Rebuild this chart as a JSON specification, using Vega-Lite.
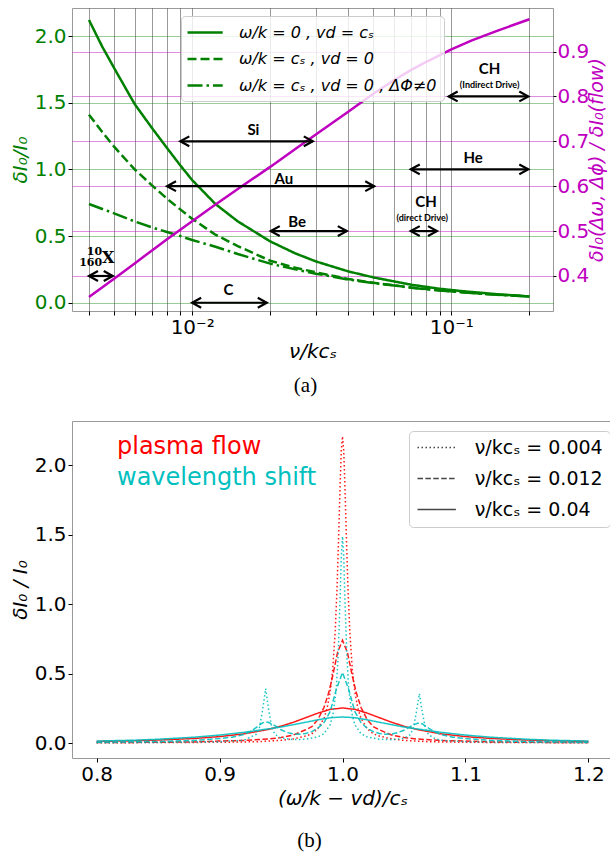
{
  "$schema": "https://vega.github.io/schema/vega-lite/v6.json",
  "background": "white",
  "padding": {"left": 9, "top": 7, "right": 0, "bottom": 0},
  "spacing": 23,
  "resolve": {"scale": {"strokeDash": "independent", "color": "independent"}, "legend": {"strokeDash": "independent", "color": "independent"}},
  "config": {
    "view": {"stroke": "#999999", "strokeWidth": 1},
    "axis": {"labelFont": "DejaVu Sans", "titleFont": "DejaVu Sans", "labelFontSize": 20, "titleFontSize": 20, "titleFontWeight": "normal", "labelColor": "#000000", "titleColor": "#000000", "tickColor": "#000000", "tickSize": 4, "labelPadding": 2, "domain": false, "grid": false, "titlePadding": 4},
    "legend": {"labelFont": "DejaVu Sans"},
    "title": {"font": "Liberation Serif", "fontSize": 21, "fontWeight": "normal", "color": "#000000"}
  },
  "datasets": {
    "green": [
      {"nu":0.004,"v":2.12,"s":"ω/k = 0 , vd = cₛ"},{"nu":0.0045,"v":1.92,"s":"ω/k = 0 , vd = cₛ"},{"nu":0.005,"v":1.76,"s":"ω/k = 0 , vd = cₛ"},{"nu":0.006,"v":1.49,"s":"ω/k = 0 , vd = cₛ"},{"nu":0.007,"v":1.31,"s":"ω/k = 0 , vd = cₛ"},{"nu":0.008,"v":1.16,"s":"ω/k = 0 , vd = cₛ"},{"nu":0.009,"v":1.03,"s":"ω/k = 0 , vd = cₛ"},{"nu":0.01,"v":0.92,"s":"ω/k = 0 , vd = cₛ"},{"nu":0.0123,"v":0.74,"s":"ω/k = 0 , vd = cₛ"},{"nu":0.015,"v":0.61,"s":"ω/k = 0 , vd = cₛ"},{"nu":0.02,"v":0.46,"s":"ω/k = 0 , vd = cₛ"},{"nu":0.025,"v":0.37,"s":"ω/k = 0 , vd = cₛ"},{"nu":0.03,"v":0.31,"s":"ω/k = 0 , vd = cₛ"},{"nu":0.04,"v":0.235,"s":"ω/k = 0 , vd = cₛ"},{"nu":0.05,"v":0.19,"s":"ω/k = 0 , vd = cₛ"},{"nu":0.07,"v":0.135,"s":"ω/k = 0 , vd = cₛ"},{"nu":0.09,"v":0.105,"s":"ω/k = 0 , vd = cₛ"},{"nu":0.11,"v":0.087,"s":"ω/k = 0 , vd = cₛ"},{"nu":0.15,"v":0.064,"s":"ω/k = 0 , vd = cₛ"},{"nu":0.2,"v":0.047,"s":"ω/k = 0 , vd = cₛ"},
      {"nu":0.004,"v":1.41,"s":"ω/k = cₛ , vd = 0"},{"nu":0.0045,"v":1.28,"s":"ω/k = cₛ , vd = 0"},{"nu":0.005,"v":1.17,"s":"ω/k = cₛ , vd = 0"},{"nu":0.006,"v":1.0,"s":"ω/k = cₛ , vd = 0"},{"nu":0.007,"v":0.88,"s":"ω/k = cₛ , vd = 0"},{"nu":0.008,"v":0.78,"s":"ω/k = cₛ , vd = 0"},{"nu":0.009,"v":0.70,"s":"ω/k = cₛ , vd = 0"},{"nu":0.01,"v":0.63,"s":"ω/k = cₛ , vd = 0"},{"nu":0.0123,"v":0.51,"s":"ω/k = cₛ , vd = 0"},{"nu":0.015,"v":0.425,"s":"ω/k = cₛ , vd = 0"},{"nu":0.02,"v":0.315,"s":"ω/k = cₛ , vd = 0"},{"nu":0.025,"v":0.262,"s":"ω/k = cₛ , vd = 0"},{"nu":0.03,"v":0.228,"s":"ω/k = cₛ , vd = 0"},{"nu":0.04,"v":0.178,"s":"ω/k = cₛ , vd = 0"},{"nu":0.05,"v":0.15,"s":"ω/k = cₛ , vd = 0"},{"nu":0.07,"v":0.114,"s":"ω/k = cₛ , vd = 0"},{"nu":0.09,"v":0.093,"s":"ω/k = cₛ , vd = 0"},{"nu":0.11,"v":0.079,"s":"ω/k = cₛ , vd = 0"},{"nu":0.15,"v":0.06,"s":"ω/k = cₛ , vd = 0"},{"nu":0.2,"v":0.046,"s":"ω/k = cₛ , vd = 0"},
      {"nu":0.004,"v":0.74,"s":"ω/k = cₛ , vd = 0 , ΔΦ≠0"},{"nu":0.005,"v":0.67,"s":"ω/k = cₛ , vd = 0 , ΔΦ≠0"},{"nu":0.006,"v":0.61,"s":"ω/k = cₛ , vd = 0 , ΔΦ≠0"},{"nu":0.007,"v":0.565,"s":"ω/k = cₛ , vd = 0 , ΔΦ≠0"},{"nu":0.008,"v":0.53,"s":"ω/k = cₛ , vd = 0 , ΔΦ≠0"},{"nu":0.009,"v":0.5,"s":"ω/k = cₛ , vd = 0 , ΔΦ≠0"},{"nu":0.01,"v":0.47,"s":"ω/k = cₛ , vd = 0 , ΔΦ≠0"},{"nu":0.0123,"v":0.42,"s":"ω/k = cₛ , vd = 0 , ΔΦ≠0"},{"nu":0.015,"v":0.365,"s":"ω/k = cₛ , vd = 0 , ΔΦ≠0"},{"nu":0.02,"v":0.293,"s":"ω/k = cₛ , vd = 0 , ΔΦ≠0"},{"nu":0.025,"v":0.25,"s":"ω/k = cₛ , vd = 0 , ΔΦ≠0"},{"nu":0.03,"v":0.218,"s":"ω/k = cₛ , vd = 0 , ΔΦ≠0"},{"nu":0.04,"v":0.174,"s":"ω/k = cₛ , vd = 0 , ΔΦ≠0"},{"nu":0.05,"v":0.147,"s":"ω/k = cₛ , vd = 0 , ΔΦ≠0"},{"nu":0.07,"v":0.113,"s":"ω/k = cₛ , vd = 0 , ΔΦ≠0"},{"nu":0.09,"v":0.092,"s":"ω/k = cₛ , vd = 0 , ΔΦ≠0"},{"nu":0.11,"v":0.078,"s":"ω/k = cₛ , vd = 0 , ΔΦ≠0"},{"nu":0.15,"v":0.06,"s":"ω/k = cₛ , vd = 0 , ΔΦ≠0"},{"nu":0.2,"v":0.046,"s":"ω/k = cₛ , vd = 0 , ΔΦ≠0"}
    ],
    "mag": [
      {"nu":0.004,"r":0.353},{"nu":0.005,"r":0.394},{"nu":0.006,"r":0.428},{"nu":0.007,"r":0.457},{"nu":0.008,"r":0.482},{"nu":0.01,"r":0.522},{"nu":0.012,"r":0.555},{"nu":0.015,"r":0.594},{"nu":0.02,"r":0.643},{"nu":0.025,"r":0.683},{"nu":0.03,"r":0.715},{"nu":0.04,"r":0.766},{"nu":0.05,"r":0.806},{"nu":0.06,"r":0.836},{"nu":0.07,"r":0.859},{"nu":0.08,"r":0.877},{"nu":0.1,"r":0.905},{"nu":0.12,"r":0.925},{"nu":0.15,"r":0.946},{"nu":0.2,"r":0.972}
    ],
    "arrowsL": [{"a":0.01,"b":0.0194,"y":0},{"a":0.0697,"b":0.198,"y":1.0}],
    "arrowsR": [{"a":0.009,"b":0.0292,"y":0.7},{"a":0.008,"b":0.0504,"y":0.6},{"a":0.0201,"b":0.0395,"y":0.5},{"a":0.0697,"b":0.088,"y":0.5},{"a":0.0976,"b":0.198,"y":0.8},{"a":0.004,"b":0.00494,"y":0.4}],
    "labL": [{"x":0.0138,"y":0.0975,"t":"C"},{"x":0.1214,"y":1.085,"t":"He"}],
    "labR": [{"x":0.01723,"y":0.725,"t":"Si"},{"x":0.0226,"y":0.617,"t":"Au"},{"x":0.0254,"y":0.521,"t":"Be"},{"x":0.0798,"y":0.564,"t":"CH"},{"x":0.1404,"y":0.862,"t":"CH"}],
    "labRs": [{"x":0.0772,"y":0.529,"t":"(direct Drive)"},{"x":0.1404,"y":0.826,"t":"(Indirect Drive)"}],
    "labN": [{"x":0.0042,"y":0.454,"t":"10"},{"x":0.00406,"y":0.429,"t":"160"}],
    "labX": [{"x":0.00474,"y":0.441,"t":"X"}],
    "b": [
      {"x":0.8,"y":0.005,"k":"plasma flow","n":"ν/kcₛ = 0.004"},{"x":0.85,"y":0.006,"k":"plasma flow","n":"ν/kcₛ = 0.004"},{"x":0.9,"y":0.008,"k":"plasma flow","n":"ν/kcₛ = 0.004"},{"x":0.93,"y":0.012,"k":"plasma flow","n":"ν/kcₛ = 0.004"},{"x":0.95,"y":0.022,"k":"plasma flow","n":"ν/kcₛ = 0.004"},{"x":0.96,"y":0.032,"k":"plasma flow","n":"ν/kcₛ = 0.004"},{"x":0.97,"y":0.053,"k":"plasma flow","n":"ν/kcₛ = 0.004"},{"x":0.975,"y":0.069,"k":"plasma flow","n":"ν/kcₛ = 0.004"},{"x":0.98,"y":0.106,"k":"plasma flow","n":"ν/kcₛ = 0.004"},{"x":0.985,"y":0.182,"k":"plasma flow","n":"ν/kcₛ = 0.004"},{"x":0.9875,"y":0.254,"k":"plasma flow","n":"ν/kcₛ = 0.004"},{"x":0.99,"y":0.372,"k":"plasma flow","n":"ν/kcₛ = 0.004"},{"x":0.992,"y":0.531,"k":"plasma flow","n":"ν/kcₛ = 0.004"},{"x":0.994,"y":0.796,"k":"plasma flow","n":"ν/kcₛ = 0.004"},{"x":0.9955,"y":1.105,"k":"plasma flow","n":"ν/kcₛ = 0.004"},{"x":0.997,"y":1.53,"k":"plasma flow","n":"ν/kcₛ = 0.004"},{"x":0.998,"y":1.845,"k":"plasma flow","n":"ν/kcₛ = 0.004"},{"x":0.999,"y":2.106,"k":"plasma flow","n":"ν/kcₛ = 0.004"},{"x":1.0,"y":2.21,"k":"plasma flow","n":"ν/kcₛ = 0.004"},{"x":1.001,"y":2.106,"k":"plasma flow","n":"ν/kcₛ = 0.004"},{"x":1.002,"y":1.845,"k":"plasma flow","n":"ν/kcₛ = 0.004"},{"x":1.003,"y":1.53,"k":"plasma flow","n":"ν/kcₛ = 0.004"},{"x":1.0045,"y":1.105,"k":"plasma flow","n":"ν/kcₛ = 0.004"},{"x":1.006,"y":0.796,"k":"plasma flow","n":"ν/kcₛ = 0.004"},{"x":1.008,"y":0.531,"k":"plasma flow","n":"ν/kcₛ = 0.004"},{"x":1.01,"y":0.372,"k":"plasma flow","n":"ν/kcₛ = 0.004"},{"x":1.0125,"y":0.254,"k":"plasma flow","n":"ν/kcₛ = 0.004"},{"x":1.015,"y":0.182,"k":"plasma flow","n":"ν/kcₛ = 0.004"},{"x":1.02,"y":0.106,"k":"plasma flow","n":"ν/kcₛ = 0.004"},{"x":1.025,"y":0.069,"k":"plasma flow","n":"ν/kcₛ = 0.004"},{"x":1.03,"y":0.053,"k":"plasma flow","n":"ν/kcₛ = 0.004"},{"x":1.04,"y":0.032,"k":"plasma flow","n":"ν/kcₛ = 0.004"},{"x":1.05,"y":0.022,"k":"plasma flow","n":"ν/kcₛ = 0.004"},{"x":1.07,"y":0.012,"k":"plasma flow","n":"ν/kcₛ = 0.004"},{"x":1.1,"y":0.008,"k":"plasma flow","n":"ν/kcₛ = 0.004"},{"x":1.15,"y":0.006,"k":"plasma flow","n":"ν/kcₛ = 0.004"},{"x":1.2,"y":0.005,"k":"plasma flow","n":"ν/kcₛ = 0.004"},
      {"x":0.8,"y":0.006,"k":"plasma flow","n":"ν/kcₛ = 0.012"},{"x":0.85,"y":0.008,"k":"plasma flow","n":"ν/kcₛ = 0.012"},{"x":0.88,"y":0.011,"k":"plasma flow","n":"ν/kcₛ = 0.012"},{"x":0.9,"y":0.017,"k":"plasma flow","n":"ν/kcₛ = 0.012"},{"x":0.92,"y":0.021,"k":"plasma flow","n":"ν/kcₛ = 0.012"},{"x":0.94,"y":0.032,"k":"plasma flow","n":"ν/kcₛ = 0.012"},{"x":0.95,"y":0.042,"k":"plasma flow","n":"ν/kcₛ = 0.012"},{"x":0.96,"y":0.06,"k":"plasma flow","n":"ν/kcₛ = 0.012"},{"x":0.97,"y":0.098,"k":"plasma flow","n":"ν/kcₛ = 0.012"},{"x":0.975,"y":0.12,"k":"plasma flow","n":"ν/kcₛ = 0.012"},{"x":0.98,"y":0.172,"k":"plasma flow","n":"ν/kcₛ = 0.012"},{"x":0.985,"y":0.26,"k":"plasma flow","n":"ν/kcₛ = 0.012"},{"x":0.989,"y":0.371,"k":"plasma flow","n":"ν/kcₛ = 0.012"},{"x":0.992,"y":0.485,"k":"plasma flow","n":"ν/kcₛ = 0.012"},{"x":0.996,"y":0.655,"k":"plasma flow","n":"ν/kcₛ = 0.012"},{"x":1.0,"y":0.742,"k":"plasma flow","n":"ν/kcₛ = 0.012"},{"x":1.004,"y":0.655,"k":"plasma flow","n":"ν/kcₛ = 0.012"},{"x":1.008,"y":0.485,"k":"plasma flow","n":"ν/kcₛ = 0.012"},{"x":1.011,"y":0.371,"k":"plasma flow","n":"ν/kcₛ = 0.012"},{"x":1.015,"y":0.26,"k":"plasma flow","n":"ν/kcₛ = 0.012"},{"x":1.02,"y":0.172,"k":"plasma flow","n":"ν/kcₛ = 0.012"},{"x":1.025,"y":0.12,"k":"plasma flow","n":"ν/kcₛ = 0.012"},{"x":1.03,"y":0.098,"k":"plasma flow","n":"ν/kcₛ = 0.012"},{"x":1.04,"y":0.06,"k":"plasma flow","n":"ν/kcₛ = 0.012"},{"x":1.05,"y":0.042,"k":"plasma flow","n":"ν/kcₛ = 0.012"},{"x":1.06,"y":0.032,"k":"plasma flow","n":"ν/kcₛ = 0.012"},{"x":1.08,"y":0.021,"k":"plasma flow","n":"ν/kcₛ = 0.012"},{"x":1.1,"y":0.017,"k":"plasma flow","n":"ν/kcₛ = 0.012"},{"x":1.12,"y":0.011,"k":"plasma flow","n":"ν/kcₛ = 0.012"},{"x":1.15,"y":0.008,"k":"plasma flow","n":"ν/kcₛ = 0.012"},{"x":1.2,"y":0.006,"k":"plasma flow","n":"ν/kcₛ = 0.012"},
      {"x":0.8,"y":0.014,"k":"plasma flow","n":"ν/kcₛ = 0.04"},{"x":0.83,"y":0.019,"k":"plasma flow","n":"ν/kcₛ = 0.04"},{"x":0.85,"y":0.024,"k":"plasma flow","n":"ν/kcₛ = 0.04"},{"x":0.88,"y":0.036,"k":"plasma flow","n":"ν/kcₛ = 0.04"},{"x":0.9,"y":0.049,"k":"plasma flow","n":"ν/kcₛ = 0.04"},{"x":0.92,"y":0.069,"k":"plasma flow","n":"ν/kcₛ = 0.04"},{"x":0.94,"y":0.101,"k":"plasma flow","n":"ν/kcₛ = 0.04"},{"x":0.95,"y":0.124,"k":"plasma flow","n":"ν/kcₛ = 0.04"},{"x":0.96,"y":0.152,"k":"plasma flow","n":"ν/kcₛ = 0.04"},{"x":0.97,"y":0.185,"k":"plasma flow","n":"ν/kcₛ = 0.04"},{"x":0.98,"y":0.218,"k":"plasma flow","n":"ν/kcₛ = 0.04"},{"x":0.99,"y":0.245,"k":"plasma flow","n":"ν/kcₛ = 0.04"},{"x":1.0,"y":0.255,"k":"plasma flow","n":"ν/kcₛ = 0.04"},{"x":1.01,"y":0.245,"k":"plasma flow","n":"ν/kcₛ = 0.04"},{"x":1.02,"y":0.218,"k":"plasma flow","n":"ν/kcₛ = 0.04"},{"x":1.03,"y":0.185,"k":"plasma flow","n":"ν/kcₛ = 0.04"},{"x":1.04,"y":0.152,"k":"plasma flow","n":"ν/kcₛ = 0.04"},{"x":1.05,"y":0.124,"k":"plasma flow","n":"ν/kcₛ = 0.04"},{"x":1.06,"y":0.101,"k":"plasma flow","n":"ν/kcₛ = 0.04"},{"x":1.08,"y":0.069,"k":"plasma flow","n":"ν/kcₛ = 0.04"},{"x":1.1,"y":0.049,"k":"plasma flow","n":"ν/kcₛ = 0.04"},{"x":1.12,"y":0.036,"k":"plasma flow","n":"ν/kcₛ = 0.04"},{"x":1.15,"y":0.024,"k":"plasma flow","n":"ν/kcₛ = 0.04"},{"x":1.17,"y":0.019,"k":"plasma flow","n":"ν/kcₛ = 0.04"},{"x":1.2,"y":0.014,"k":"plasma flow","n":"ν/kcₛ = 0.04"},
      {"x":0.8,"y":0.005,"k":"wavelength shift","n":"ν/kcₛ = 0.004"},{"x":0.85,"y":0.007,"k":"wavelength shift","n":"ν/kcₛ = 0.004"},{"x":0.9,"y":0.012,"k":"wavelength shift","n":"ν/kcₛ = 0.004"},{"x":0.92,"y":0.023,"k":"wavelength shift","n":"ν/kcₛ = 0.004"},{"x":0.93,"y":0.066,"k":"wavelength shift","n":"ν/kcₛ = 0.004"},{"x":0.9325,"y":0.115,"k":"wavelength shift","n":"ν/kcₛ = 0.004"},{"x":0.935,"y":0.24,"k":"wavelength shift","n":"ν/kcₛ = 0.004"},{"x":0.9375,"y":0.394,"k":"wavelength shift","n":"ν/kcₛ = 0.004"},{"x":0.94,"y":0.24,"k":"wavelength shift","n":"ν/kcₛ = 0.004"},{"x":0.9425,"y":0.115,"k":"wavelength shift","n":"ν/kcₛ = 0.004"},{"x":0.945,"y":0.066,"k":"wavelength shift","n":"ν/kcₛ = 0.004"},{"x":0.95,"y":0.038,"k":"wavelength shift","n":"ν/kcₛ = 0.004"},{"x":0.96,"y":0.027,"k":"wavelength shift","n":"ν/kcₛ = 0.004"},{"x":0.97,"y":0.03,"k":"wavelength shift","n":"ν/kcₛ = 0.004"},{"x":0.98,"y":0.047,"k":"wavelength shift","n":"ν/kcₛ = 0.004"},{"x":0.985,"y":0.07,"k":"wavelength shift","n":"ν/kcₛ = 0.004"},{"x":0.99,"y":0.135,"k":"wavelength shift","n":"ν/kcₛ = 0.004"},{"x":0.9925,"y":0.22,"k":"wavelength shift","n":"ν/kcₛ = 0.004"},{"x":0.995,"y":0.4,"k":"wavelength shift","n":"ν/kcₛ = 0.004"},{"x":0.9965,"y":0.64,"k":"wavelength shift","n":"ν/kcₛ = 0.004"},{"x":0.998,"y":1.03,"k":"wavelength shift","n":"ν/kcₛ = 0.004"},{"x":0.999,"y":1.34,"k":"wavelength shift","n":"ν/kcₛ = 0.004"},{"x":1.0,"y":1.49,"k":"wavelength shift","n":"ν/kcₛ = 0.004"},{"x":1.001,"y":1.34,"k":"wavelength shift","n":"ν/kcₛ = 0.004"},{"x":1.002,"y":1.03,"k":"wavelength shift","n":"ν/kcₛ = 0.004"},{"x":1.0035,"y":0.64,"k":"wavelength shift","n":"ν/kcₛ = 0.004"},{"x":1.005,"y":0.4,"k":"wavelength shift","n":"ν/kcₛ = 0.004"},{"x":1.0075,"y":0.22,"k":"wavelength shift","n":"ν/kcₛ = 0.004"},{"x":1.01,"y":0.135,"k":"wavelength shift","n":"ν/kcₛ = 0.004"},{"x":1.015,"y":0.07,"k":"wavelength shift","n":"ν/kcₛ = 0.004"},{"x":1.02,"y":0.047,"k":"wavelength shift","n":"ν/kcₛ = 0.004"},{"x":1.03,"y":0.03,"k":"wavelength shift","n":"ν/kcₛ = 0.004"},{"x":1.04,"y":0.027,"k":"wavelength shift","n":"ν/kcₛ = 0.004"},{"x":1.05,"y":0.036,"k":"wavelength shift","n":"ν/kcₛ = 0.004"},{"x":1.055,"y":0.062,"k":"wavelength shift","n":"ν/kcₛ = 0.004"},{"x":1.0575,"y":0.106,"k":"wavelength shift","n":"ν/kcₛ = 0.004"},{"x":1.06,"y":0.22,"k":"wavelength shift","n":"ν/kcₛ = 0.004"},{"x":1.0625,"y":0.358,"k":"wavelength shift","n":"ν/kcₛ = 0.004"},{"x":1.065,"y":0.22,"k":"wavelength shift","n":"ν/kcₛ = 0.004"},{"x":1.0675,"y":0.106,"k":"wavelength shift","n":"ν/kcₛ = 0.004"},{"x":1.07,"y":0.062,"k":"wavelength shift","n":"ν/kcₛ = 0.004"},{"x":1.075,"y":0.036,"k":"wavelength shift","n":"ν/kcₛ = 0.004"},{"x":1.08,"y":0.022,"k":"wavelength shift","n":"ν/kcₛ = 0.004"},{"x":1.1,"y":0.012,"k":"wavelength shift","n":"ν/kcₛ = 0.004"},{"x":1.15,"y":0.007,"k":"wavelength shift","n":"ν/kcₛ = 0.004"},{"x":1.2,"y":0.005,"k":"wavelength shift","n":"ν/kcₛ = 0.004"},
      {"x":0.8,"y":0.008,"k":"wavelength shift","n":"ν/kcₛ = 0.012"},{"x":0.85,"y":0.014,"k":"wavelength shift","n":"ν/kcₛ = 0.012"},{"x":0.88,"y":0.022,"k":"wavelength shift","n":"ν/kcₛ = 0.012"},{"x":0.9,"y":0.035,"k":"wavelength shift","n":"ν/kcₛ = 0.012"},{"x":0.91,"y":0.045,"k":"wavelength shift","n":"ν/kcₛ = 0.012"},{"x":0.92,"y":0.065,"k":"wavelength shift","n":"ν/kcₛ = 0.012"},{"x":0.925,"y":0.085,"k":"wavelength shift","n":"ν/kcₛ = 0.012"},{"x":0.93,"y":0.115,"k":"wavelength shift","n":"ν/kcₛ = 0.012"},{"x":0.935,"y":0.148,"k":"wavelength shift","n":"ν/kcₛ = 0.012"},{"x":0.9375,"y":0.155,"k":"wavelength shift","n":"ν/kcₛ = 0.012"},{"x":0.94,"y":0.15,"k":"wavelength shift","n":"ν/kcₛ = 0.012"},{"x":0.945,"y":0.128,"k":"wavelength shift","n":"ν/kcₛ = 0.012"},{"x":0.95,"y":0.098,"k":"wavelength shift","n":"ν/kcₛ = 0.012"},{"x":0.955,"y":0.078,"k":"wavelength shift","n":"ν/kcₛ = 0.012"},{"x":0.96,"y":0.068,"k":"wavelength shift","n":"ν/kcₛ = 0.012"},{"x":0.965,"y":0.066,"k":"wavelength shift","n":"ν/kcₛ = 0.012"},{"x":0.97,"y":0.072,"k":"wavelength shift","n":"ν/kcₛ = 0.012"},{"x":0.975,"y":0.085,"k":"wavelength shift","n":"ν/kcₛ = 0.012"},{"x":0.98,"y":0.11,"k":"wavelength shift","n":"ν/kcₛ = 0.012"},{"x":0.985,"y":0.15,"k":"wavelength shift","n":"ν/kcₛ = 0.012"},{"x":0.99,"y":0.23,"k":"wavelength shift","n":"ν/kcₛ = 0.012"},{"x":0.995,"y":0.39,"k":"wavelength shift","n":"ν/kcₛ = 0.012"},{"x":1.0,"y":0.51,"k":"wavelength shift","n":"ν/kcₛ = 0.012"},{"x":1.005,"y":0.39,"k":"wavelength shift","n":"ν/kcₛ = 0.012"},{"x":1.01,"y":0.23,"k":"wavelength shift","n":"ν/kcₛ = 0.012"},{"x":1.015,"y":0.15,"k":"wavelength shift","n":"ν/kcₛ = 0.012"},{"x":1.02,"y":0.11,"k":"wavelength shift","n":"ν/kcₛ = 0.012"},{"x":1.025,"y":0.085,"k":"wavelength shift","n":"ν/kcₛ = 0.012"},{"x":1.03,"y":0.072,"k":"wavelength shift","n":"ν/kcₛ = 0.012"},{"x":1.035,"y":0.066,"k":"wavelength shift","n":"ν/kcₛ = 0.012"},{"x":1.04,"y":0.068,"k":"wavelength shift","n":"ν/kcₛ = 0.012"},{"x":1.045,"y":0.078,"k":"wavelength shift","n":"ν/kcₛ = 0.012"},{"x":1.05,"y":0.095,"k":"wavelength shift","n":"ν/kcₛ = 0.012"},{"x":1.055,"y":0.12,"k":"wavelength shift","n":"ν/kcₛ = 0.012"},{"x":1.06,"y":0.142,"k":"wavelength shift","n":"ν/kcₛ = 0.012"},{"x":1.0625,"y":0.147,"k":"wavelength shift","n":"ν/kcₛ = 0.012"},{"x":1.065,"y":0.14,"k":"wavelength shift","n":"ν/kcₛ = 0.012"},{"x":1.07,"y":0.11,"k":"wavelength shift","n":"ν/kcₛ = 0.012"},{"x":1.075,"y":0.083,"k":"wavelength shift","n":"ν/kcₛ = 0.012"},{"x":1.08,"y":0.064,"k":"wavelength shift","n":"ν/kcₛ = 0.012"},{"x":1.09,"y":0.045,"k":"wavelength shift","n":"ν/kcₛ = 0.012"},{"x":1.1,"y":0.035,"k":"wavelength shift","n":"ν/kcₛ = 0.012"},{"x":1.12,"y":0.022,"k":"wavelength shift","n":"ν/kcₛ = 0.012"},{"x":1.15,"y":0.014,"k":"wavelength shift","n":"ν/kcₛ = 0.012"},{"x":1.2,"y":0.008,"k":"wavelength shift","n":"ν/kcₛ = 0.012"},
      {"x":0.8,"y":0.017,"k":"wavelength shift","n":"ν/kcₛ = 0.04"},{"x":0.83,"y":0.023,"k":"wavelength shift","n":"ν/kcₛ = 0.04"},{"x":0.85,"y":0.03,"k":"wavelength shift","n":"ν/kcₛ = 0.04"},{"x":0.88,"y":0.045,"k":"wavelength shift","n":"ν/kcₛ = 0.04"},{"x":0.9,"y":0.06,"k":"wavelength shift","n":"ν/kcₛ = 0.04"},{"x":0.92,"y":0.08,"k":"wavelength shift","n":"ν/kcₛ = 0.04"},{"x":0.94,"y":0.105,"k":"wavelength shift","n":"ν/kcₛ = 0.04"},{"x":0.95,"y":0.118,"k":"wavelength shift","n":"ν/kcₛ = 0.04"},{"x":0.96,"y":0.135,"k":"wavelength shift","n":"ν/kcₛ = 0.04"},{"x":0.97,"y":0.152,"k":"wavelength shift","n":"ν/kcₛ = 0.04"},{"x":0.98,"y":0.17,"k":"wavelength shift","n":"ν/kcₛ = 0.04"},{"x":0.99,"y":0.185,"k":"wavelength shift","n":"ν/kcₛ = 0.04"},{"x":1.0,"y":0.19,"k":"wavelength shift","n":"ν/kcₛ = 0.04"},{"x":1.01,"y":0.185,"k":"wavelength shift","n":"ν/kcₛ = 0.04"},{"x":1.02,"y":0.17,"k":"wavelength shift","n":"ν/kcₛ = 0.04"},{"x":1.03,"y":0.152,"k":"wavelength shift","n":"ν/kcₛ = 0.04"},{"x":1.04,"y":0.135,"k":"wavelength shift","n":"ν/kcₛ = 0.04"},{"x":1.05,"y":0.118,"k":"wavelength shift","n":"ν/kcₛ = 0.04"},{"x":1.06,"y":0.105,"k":"wavelength shift","n":"ν/kcₛ = 0.04"},{"x":1.08,"y":0.08,"k":"wavelength shift","n":"ν/kcₛ = 0.04"},{"x":1.1,"y":0.06,"k":"wavelength shift","n":"ν/kcₛ = 0.04"},{"x":1.12,"y":0.045,"k":"wavelength shift","n":"ν/kcₛ = 0.04"},{"x":1.15,"y":0.03,"k":"wavelength shift","n":"ν/kcₛ = 0.04"},{"x":1.17,"y":0.023,"k":"wavelength shift","n":"ν/kcₛ = 0.04"},{"x":1.2,"y":0.017,"k":"wavelength shift","n":"ν/kcₛ = 0.04"}
    ]
  },
  "vconcat": [
    {
      "width": 481,
      "height": 303,
      "title": {"text": "(a)", "orient": "bottom", "offset": 14, "dx": -7},
      "layer": [
        {
          "layer": [
            {
              "data": {"name": "green"},
              "mark": {"type": "line", "strokeWidth": 2.5, "color": "#008000"},
              "encoding": {
                "x": {"field": "nu", "type": "quantitative", "scale": {"type": "log", "domain": [0.00344, 0.2466], "nice": false},
                  "axis": {"values": [0.004,0.005,0.006,0.007,0.008,0.009,0.01,0.02,0.03,0.04,0.05,0.06,0.07,0.08,0.09,0.1,0.2], "grid": true, "gridColor": "#000000", "gridOpacity": 0.4, "labelExpr": "datum.value == 0.01 ? '10⁻²' : (datum.value == 0.1 ? '10⁻¹' : '')", "labelFlush": false, "labelOverlap": false, "title": "ν/kcₛ", "titleFontStyle": "italic"}},
                "y": {"field": "v", "type": "quantitative", "scale": {"domain": [-0.062, 2.21], "nice": false, "zero": false},
                  "axis": {"orient": "left", "values": [0,0.5,1,1.5,2], "format": ".1f", "grid": true, "gridColor": "#008000", "gridOpacity": 0.4, "labelColor": "#008000", "titleColor": "#008000", "title": "δI₀/I₀", "titleFontStyle": "italic"}},
                "strokeDash": {"field": "s", "type": "nominal",
                  "scale": {"domain": ["ω/k = 0 , vd = cₛ", "ω/k = cₛ , vd = 0", "ω/k = cₛ , vd = 0 , ΔΦ≠0"], "range": [[1,0],[9,4],[15,4,2.5,4]]},
                  "legend": {"orient": "none", "legendX": 109, "legendY": 8, "title": null, "symbolType": "M-2.2,0L2.2,0", "symbolSize": 256, "symbolStrokeColor": "#008000", "symbolStrokeWidth": 2.5, "symbolFillColor": "transparent", "symbolOffset": 7.6, "labelOffset": 24.4, "labelFontSize": 16, "labelFontStyle": "italic", "labelLimit": 0, "fillColor": "rgba(255,255,255,0.8)", "strokeColor": "#cccccc", "cornerRadius": 4, "padding": 7, "rowPadding": 8.5}}
              }
            },
            {
              "data": {"name": "arrowsL"},
              "mark": {"type": "rule", "strokeWidth": 2.2, "color": "#000000"},
              "encoding": {
                "x": {"field": "a", "type": "quantitative", "scale": {"type": "log", "domain": [0.00344, 0.2466], "nice": false}},
                "x2": {"field": "b"},
                "y": {"field": "y", "type": "quantitative", "scale": {"domain": [-0.062, 2.21], "nice": false, "zero": false}}
              }
            },
            {
              "data": {"name": "arrowsL"},
              "mark": {"type": "point", "shape": "M1,-0.55L0,0L1,0.55", "size": 324, "filled": false, "stroke": "#000000", "strokeWidth": 2.2, "opacity": 1},
              "encoding": {
                "x": {"field": "a", "type": "quantitative", "scale": {"type": "log", "domain": [0.00344, 0.2466], "nice": false}},
                "y": {"field": "y", "type": "quantitative", "scale": {"domain": [-0.062, 2.21], "nice": false, "zero": false}}
              }
            },
            {
              "data": {"name": "arrowsL"},
              "mark": {"type": "point", "shape": "M-1,-0.55L0,0L-1,0.55", "size": 324, "filled": false, "stroke": "#000000", "strokeWidth": 2.2, "opacity": 1},
              "encoding": {
                "x": {"field": "b", "type": "quantitative", "scale": {"type": "log", "domain": [0.00344, 0.2466], "nice": false}},
                "y": {"field": "y", "type": "quantitative", "scale": {"domain": [-0.062, 2.21], "nice": false, "zero": false}}
              }
            },
            {
              "data": {"name": "labL"},
              "mark": {"type": "text", "font": "Lato", "fontWeight": "bold", "fontSize": 15, "baseline": "middle", "align": "center", "color": "#000000"},
              "encoding": {
                "x": {"field": "x", "type": "quantitative", "scale": {"type": "log", "domain": [0.00344, 0.2466], "nice": false}},
                "y": {"field": "y", "type": "quantitative", "scale": {"domain": [-0.062, 2.21], "nice": false, "zero": false}},
                "text": {"field": "t"}
              }
            }
          ]
        },
        {
          "layer": [
            {
              "data": {"name": "mag"},
              "mark": {"type": "line", "strokeWidth": 2.5, "color": "#BF00BF"},
              "encoding": {
                "x": {"field": "nu", "type": "quantitative", "scale": {"type": "log", "domain": [0.00344, 0.2466], "nice": false}},
                "y": {"field": "r", "type": "quantitative", "scale": {"domain": [0.322, 0.997], "nice": false, "zero": false},
                  "axis": {"orient": "right", "values": [0.4,0.5,0.6,0.7,0.8,0.9], "format": ".1f", "grid": true, "gridColor": "#BF00BF", "gridOpacity": 0.45, "labelColor": "#BF00BF", "titleColor": "#BF00BF", "title": "δI₀(Δω, Δϕ) / δI₀(flow)", "titleFontStyle": "italic", "titleFontSize": 19, "titleAngle": 270, "titlePadding": 18, "tickSize": 3, "labelPadding": 1}}
              }
            },
            {
              "data": {"name": "arrowsR"},
              "mark": {"type": "rule", "strokeWidth": 2.2, "color": "#000000"},
              "encoding": {
                "x": {"field": "a", "type": "quantitative", "scale": {"type": "log", "domain": [0.00344, 0.2466], "nice": false}},
                "x2": {"field": "b"},
                "y": {"field": "y", "type": "quantitative", "scale": {"domain": [0.322, 0.997], "nice": false, "zero": false}}
              }
            },
            {
              "data": {"name": "arrowsR"},
              "mark": {"type": "point", "shape": "M1,-0.55L0,0L1,0.55", "size": 324, "filled": false, "stroke": "#000000", "strokeWidth": 2.2, "opacity": 1},
              "encoding": {
                "x": {"field": "a", "type": "quantitative", "scale": {"type": "log", "domain": [0.00344, 0.2466], "nice": false}},
                "y": {"field": "y", "type": "quantitative", "scale": {"domain": [0.322, 0.997], "nice": false, "zero": false}}
              }
            },
            {
              "data": {"name": "arrowsR"},
              "mark": {"type": "point", "shape": "M-1,-0.55L0,0L-1,0.55", "size": 324, "filled": false, "stroke": "#000000", "strokeWidth": 2.2, "opacity": 1},
              "encoding": {
                "x": {"field": "b", "type": "quantitative", "scale": {"type": "log", "domain": [0.00344, 0.2466], "nice": false}},
                "y": {"field": "y", "type": "quantitative", "scale": {"domain": [0.322, 0.997], "nice": false, "zero": false}}
              }
            },
            {
              "data": {"name": "labR"},
              "mark": {"type": "text", "font": "Lato", "fontWeight": "bold", "fontSize": 15, "baseline": "middle", "align": "center", "color": "#000000"},
              "encoding": {
                "x": {"field": "x", "type": "quantitative", "scale": {"type": "log", "domain": [0.00344, 0.2466], "nice": false}},
                "y": {"field": "y", "type": "quantitative", "scale": {"domain": [0.322, 0.997], "nice": false, "zero": false}},
                "text": {"field": "t"}
              }
            },
            {
              "data": {"name": "labRs"},
              "mark": {"type": "text", "font": "Lato", "fontWeight": "bold", "fontSize": 9, "baseline": "middle", "align": "center", "color": "#000000"},
              "encoding": {
                "x": {"field": "x", "type": "quantitative", "scale": {"type": "log", "domain": [0.00344, 0.2466], "nice": false}},
                "y": {"field": "y", "type": "quantitative", "scale": {"domain": [0.322, 0.997], "nice": false, "zero": false}},
                "text": {"field": "t"}
              }
            },
            {
              "data": {"name": "labN"},
              "mark": {"type": "text", "font": "DejaVu Serif", "fontWeight": "bold", "fontSize": 11, "baseline": "middle", "align": "center", "color": "#000000"},
              "encoding": {
                "x": {"field": "x", "type": "quantitative", "scale": {"type": "log", "domain": [0.00344, 0.2466], "nice": false}},
                "y": {"field": "y", "type": "quantitative", "scale": {"domain": [0.322, 0.997], "nice": false, "zero": false}},
                "text": {"field": "t"}
              }
            },
            {
              "data": {"name": "labX"},
              "mark": {"type": "text", "font": "DejaVu Serif", "fontWeight": "bold", "fontSize": 16, "baseline": "middle", "align": "center", "color": "#000000"},
              "encoding": {
                "x": {"field": "x", "type": "quantitative", "scale": {"type": "log", "domain": [0.00344, 0.2466], "nice": false}},
                "y": {"field": "y", "type": "quantitative", "scale": {"domain": [0.322, 0.997], "nice": false, "zero": false}},
                "text": {"field": "t"}
              }
            }
          ]
        }
      ],
      "resolve": {"scale": {"y": "independent"}}
    },
    {
      "width": 541,
      "height": 337,
      "title": {"text": "(b)", "orient": "bottom", "offset": 22, "dx": -33},
      "data": {"name": "b"},
      "mark": {"type": "line", "strokeWidth": 1.5, "opacity": 0.9},
      "encoding": {
        "x": {"field": "x", "type": "quantitative", "scale": {"domain": [0.78, 1.22], "nice": false, "zero": false},
          "axis": {"values": [0.8,0.9,1.0,1.1,1.2], "format": ".1f", "title": "(ω/k − vd)/cₛ", "titleFontStyle": "italic", "labelFlush": false}},
        "y": {"field": "y", "type": "quantitative", "scale": {"domain": [-0.105, 2.32], "nice": false, "zero": false},
          "axis": {"values": [0,0.5,1,1.5,2], "format": ".1f", "title": "δI₀ / I₀", "titleFontStyle": "italic"}},
        "color": {"field": "k", "type": "nominal", "scale": {"domain": ["plasma flow", "wavelength shift"], "range": ["#ff0000", "#00bfbf"]},
          "legend": {"orient": "none", "legendX": 21, "legendY": 14, "title": null, "symbolSize": 0, "symbolOpacity": 0, "symbolOffset": 0, "labelOffset": 0, "padding": 0, "labelFontSize": 24, "rowPadding": 7, "labelLimit": 0,
            "encode": {"labels": {"update": {"fill": {"signal": "datum.value == 'plasma flow' ? '#ff0000' : '#00bfbf'"}}}}}},
        "strokeDash": {"field": "n", "type": "nominal", "scale": {"domain": ["ν/kcₛ = 0.004", "ν/kcₛ = 0.012", "ν/kcₛ = 0.04"], "range": [[1.5,2.5],[5.5,2.4],[1,0]]},
          "legend": {"orient": "none", "legendX": 337, "legendY": 10, "title": null, "symbolType": "M-2.4,0L2.4,0", "symbolSize": 256, "symbolStrokeColor": "#333333", "symbolStrokeWidth": 1.3, "symbolFillColor": "transparent", "symbolOffset": 11.2, "labelOffset": 28.5, "labelFontSize": 19, "labelLimit": 0, "fillColor": "rgba(255,255,255,0.8)", "strokeColor": "#cccccc", "cornerRadius": 4, "padding": 7, "rowPadding": 11}}
      }
    }
  ]
}
